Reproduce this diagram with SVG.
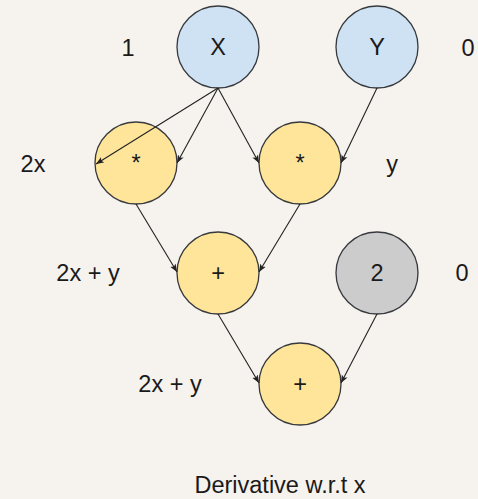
<svg xmlns="http://www.w3.org/2000/svg" width="478" height="499" viewBox="0 0 478 499">
<style>
  .n { stroke: #36393d; stroke-width: 1.3; }
  .blue { fill: #cfe2f3; }
  .yel { fill: #ffe599; }
  .gray { fill: #cccccc; }
  .t { font-family: "Liberation Sans", Arial, sans-serif; font-size: 23.5px; fill: #1a1a1a; text-anchor: middle; }
  .e { stroke: #222222; stroke-width: 1.1; fill: none; marker-end: url(#arr); }
</style>
<defs>
  <marker id="arr" markerUnits="userSpaceOnUse" markerWidth="9" markerHeight="8" refX="8" refY="4" orient="auto">
    <path d="M0,0.8 L8,4 L0,7.2 L2,4 Z" fill="#222222"/>
  </marker>
</defs>
<rect width="478" height="499" fill="#f6f2ed"/>
<g id="node-x"><circle class="n blue" cx="218" cy="47" r="41"/><text class="t" x="218" y="55">X</text></g>
<g id="node-y"><circle class="n blue" cx="377" cy="47" r="41"/><text class="t" x="377" y="55">Y</text></g>
<g id="node-mul1"><circle class="n yel" cx="136" cy="163" r="41"/><text class="t" x="136" y="171">*</text></g>
<g id="node-mul2"><circle class="n yel" cx="300" cy="163" r="41"/><text class="t" x="300" y="171">*</text></g>
<g id="node-add1"><circle class="n yel" cx="218" cy="273" r="41"/><text class="t" x="218" y="281">+</text></g>
<g id="node-two"><circle class="n gray" cx="377" cy="273" r="41"/><text class="t" x="377" y="281">2</text></g>
<g id="node-add2"><circle class="n yel" cx="300" cy="384" r="41"/><text class="t" x="300" y="392">+</text></g>
<g id="connectors">
  <line class="e" x1="218" y1="88" x2="96" y2="164"/>
  <line class="e" x1="218" y1="88" x2="177" y2="163"/>
  <line class="e" x1="218" y1="88" x2="259" y2="163"/>
  <line class="e" x1="377" y1="88" x2="341" y2="163"/>
  <line class="e" x1="136" y1="204" x2="177" y2="272"/>
  <line class="e" x1="300" y1="204" x2="259" y2="272"/>
  <line class="e" x1="218" y1="314" x2="259" y2="383"/>
  <line class="e" x1="377" y1="314" x2="341" y2="383"/>
</g>
<g id="labels">
  <text class="t" x="128" y="56">1</text>
  <text class="t" x="468" y="56">0</text>
  <text class="t" x="33" y="172">2x</text>
  <text class="t" x="392" y="172">y</text>
  <text class="t" x="88" y="281">2x + y</text>
  <text class="t" x="462" y="281">0</text>
  <text class="t" x="170" y="392">2x + y</text>
  <text class="t" x="280" y="493">Derivative w.r.t x</text>
</g>
</svg>
